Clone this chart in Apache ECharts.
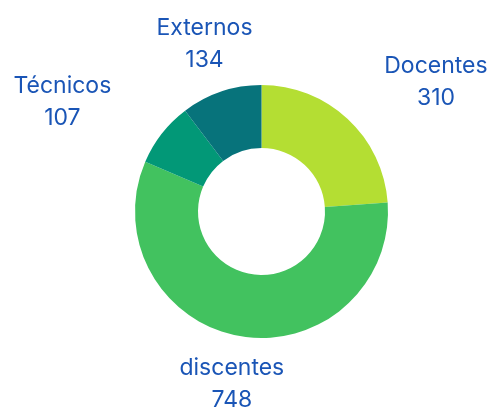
<!DOCTYPE html>
<html>
<head>
<meta charset="utf-8">
<script src="https://cdn.jsdelivr.net/npm/echarts@6/dist/echarts.min.js"></script>
<style>
  html, body { margin: 0; padding: 0; background: #ffffff; }
  #chart { width: 494px; height: 410px; }
</style>
</head>
<body>
<div id="chart"></div>
<script>
// Participants by group
const categories = ['Docentes', 'discentes', 'Técnicos', 'Externos'];
const counts = [310, 748, 107, 134];
const sliceColors = ['#b4de33', '#42c25f', '#029877', '#07737b'];

// Fine offsets for each label, applied after centring it on its leader point
const labelShift = [
  [61, -8],
  [-2, 8],
  [-68, -7],
  [-4, -10]
];

const chart = echarts.init(document.getElementById('chart'), null, { renderer: 'canvas' });

const data = categories.map((name, i) => ({
  name: name,
  value: counts[i],
  itemStyle: { color: sliceColors[i] }
}));

chart.setOption({
  animation: false,
  backgroundColor: '#ffffff',
  series: [{
    type: 'pie',
    center: [261.5, 211.5],
    radius: [63.5, 126.5],
    startAngle: 90,
    clockwise: true,
    avoidLabelOverlap: false,
    silent: true,
    data: data,
    label: {
      show: true,
      position: 'outside',
      formatter: '{b}\n{c}',
      color: '#1a55b6',
      fontFamily: 'Inter, "Noto Sans", sans-serif',
      fontSize: 23,
      lineHeight: 32
    },
    labelLine: {
      show: true,
      length: 40,
      length2: 0,
      lineStyle: { opacity: 0 }
    },
    labelLayout: function (p) {
      const pts = p.labelLinePoints;
      let px, py;
      if (pts && pts.length > 1) {
        px = pts[1][0];
        py = pts[1][1];
      } else {
        px = p.labelRect.x + p.labelRect.width / 2;
        py = p.labelRect.y + p.labelRect.height / 2;
      }
      const s = labelShift[p.dataIndex] || [0, 0];
      return {
        x: px + s[0],
        y: py + s[1],
        align: 'center',
        verticalAlign: 'middle'
      };
    }
  }]
});
</script>
</body>
</html>
